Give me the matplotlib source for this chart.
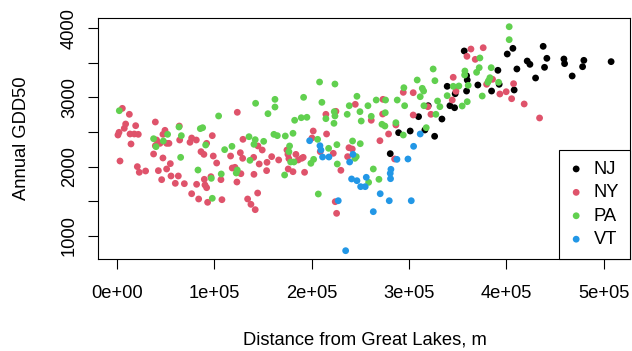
import matplotlib
matplotlib.use("Agg")
import matplotlib.pyplot as plt
import numpy as np

plt.rcParams['font.family'] = ['Liberation Sans', 'DejaVu Sans']

# distance from Great Lakes (km) and annual GDD50, per state
nj_km = [280.7, 289.3, 301.2, 316.3, 326.3, 309.8, 319.7, 356.7, 359.1, 359.8, 339.2, 347.4,
         342.0, 346.8, 333.8, 359.1, 370.7, 384.8, 391.3, 392.6, 408.0, 400.9, 406.7, 410.8,
         421.4, 424.2, 437.8, 441.6, 439.2, 430.0, 459.1, 459.8, 467.6, 479.6, 478.3, 507.6]
nj_gdd = [2188, 2491, 2515, 2530, 2439, 2722, 2880, 3670, 3313, 3251, 3160, 3053,
          2880, 2851, 2688, 3092, 3179, 3092, 3391, 3189, 3107, 3626, 3708, 3410,
          3525, 3477, 3737, 3564, 3434, 3280, 3554, 3487, 3309, 3535, 3443, 3516]

ny_km = [5.5, 12.7, 8.9, 7.5, 19.2, 2.1, 1.0, 13.4, 17.8, 21.9, 14.4, 3.1, 39.4, 49.3, 47.2,
         40.7, 44.2, 51.0, 53.4, 39.4, 37.6, 47.2, 54.8, 51.0, 42.5, 45.9, 55.5, 63.0, 59.9,
         69.2, 20.9, 22.9, 29.4, 64.0, 64.4, 76.7, 75.0, 81.5, 92.1, 97.9, 86.3, 89.3, 98.9,
         102.4, 123.6, 129.4, 126.7, 129.1, 116.7, 118.4, 121.2, 127.3, 123.2, 106.8, 96.5,
         89.7, 90.4, 92.1, 81.8, 76.7, 83.9, 93.1, 107.8, 134.2, 137.6, 142.0, 144.5, 140.7,
         146.1, 140.4, 144.8, 149.2, 154.1, 153.7,
         273.2, 244.8, 294.1, 304.3, 319.4, 322.5, 304.3, 272.9, 261.2, 214.6, 224.9, 286.5,
         279.0, 270.1, 201.6, 200.3, 215.3, 238.3, 241.7, 222.2, 208.8, 230.0, 236.9, 174.6,
         175.6, 183.8, 176.6, 189.7, 186.2, 191.3, 166.1, 158.9, 175.9, 180.8, 192.7, 224.2,
         225.6, 285.2,
         363.6, 359.5, 368.0, 376.2, 345.4, 348.2, 344.4, 379.7, 385.8, 393.3, 399.8, 407.4,
         405.4, 418.3, 434.1]
ny_gdd = [2842, 2756, 2616, 2554, 2592, 2496, 2457, 2472, 2472, 2467, 2328, 2082, 2645, 2525, 2467,
          2385, 2337, 2337, 2337, 2303, 2183, 2126, 2044, 1967, 1943, 1813, 1866, 1866, 1760,
          1755, 2001, 1919, 1938, 2587, 2385, 2414, 2352, 2385, 2337, 2448, 2217, 2178, 2154,
          2053, 2785, 2395, 2202, 2121, 2154, 1981, 1991, 1899, 1779, 1813, 1856,
          1818, 1736, 1697, 1746, 1610, 1534, 1486, 1524, 1534, 1457, 1380, 1620, 1890,
          2039, 2135, 2299, 2241, 2063, 1943,
          2972, 2900, 3073, 3068, 2866, 2756, 2746, 2760, 2670, 2756, 2799, 2602,
          2472, 2375, 2515, 2414, 2472, 2274, 2255, 2193, 2217, 1948, 2145, 2241,
          2178, 2178, 2116, 2121, 2097, 2135, 2097, 2145, 1967, 1928, 1919, 1495,
          1327, 2111,
          3698, 3593, 3549, 3717, 3290, 3088, 2962, 3189, 3261, 3049, 3082, 3198,
          2981, 2905, 2703]

pa_km = [2.4, 63.7, 66.1, 52.0, 37.6, 47.6, 40.1, 65.4, 85.6, 88.0, 91.1, 104.4, 83.2, 96.9,
         97.9, 107.1, 110.6, 118.1, 123.6, 122.5, 135.6, 142.0, 140.7, 150.7, 136.6, 142.4, 155.1,
         162.3, 162.3, 208.1, 223.9, 191.7, 210.5, 246.5, 238.6, 257.8, 266.3, 275.9, 287.9,
         294.7, 308.4, 313.6, 315.0, 311.5, 324.8, 326.6, 295.5, 315.3, 329.3, 331.7, 327.6,
         249.6, 236.5, 223.2, 223.9, 214.6, 222.9, 195.1, 189.3, 182.5, 261.2, 250.9, 272.2,
         275.2, 286.5, 275.6, 180.8, 172.9, 161.2, 164.7, 206.1, 225.9, 242.0, 249.9, 217.4,
         177.3, 176.6, 178.4, 181.8, 202.0, 199.2, 226.3, 244.4, 245.8, 263.3, 269.1, 258.5,
         206.8, 172.2, 294.1, 317.7,
         402.9, 402.9, 372.8, 372.1, 369.4, 384.4, 357.4, 357.1, 360.8, 345.4, 351.2, 339.2,
         359.8, 354.6, 375.2, 383.1, 381.7, 381.0, 392.0]
pa_gdd = [2808, 2573, 2448, 2467, 2404, 2371, 2289, 2135, 2549, 2563, 2313, 2732, 1952, 1832,
          1544, 1895, 2246, 2294, 1952, 1909, 2433, 2390, 2323, 2366, 2092, 2915, 2765,
          2972, 2861, 3222, 3193, 3001, 2929, 3016, 2880, 2880, 2962, 2962, 2962,
          3140, 3251, 3131, 3092, 3010, 3410, 3241, 2880, 2880, 2948, 2866, 2756,
          2794, 2756, 2794, 2732, 2693, 2626, 2713, 2707, 2670, 2727, 2659, 2612,
          2587, 2635, 2779, 2482, 2443, 2467, 2448, 2395, 2318, 2371, 2332, 2265,
          2299, 2217, 2068, 2068, 2106, 2049, 2039, 2121, 2145, 1967, 1818, 1774,
          1606, 1880, 2457, 2563,
          4020, 3833, 3569, 3429, 3362, 3429, 3381, 3323, 3174, 3160, 3165, 3025,
          2938, 2876, 3020, 3284, 3241, 3218, 3218]

vt_km = [197.9, 208.5, 209.5, 211.2, 217.7, 239.0, 242.4, 241.0, 246.5, 256.1, 250.3, 255.0,
         281.4, 280.7, 281.0, 287.6, 298.9, 304.7, 311.5, 270.4, 279.7, 302.3, 263.3, 227.3, 234.9]
vt_gdd = [2375, 2303, 2241, 2140, 2140, 2068, 2178, 1823, 1798, 1847, 1712, 1712,
          1962, 1904, 1827, 2106, 2111, 2294, 2472, 1610, 1509, 1509, 1351, 1509, 788]

states = ["NJ", "NY", "PA", "VT"]
colors = ["#000000", "#DF536B", "#61D04F", "#2297E6"]
series = [(nj_km, nj_gdd), (ny_km, ny_gdd), (pa_km, pa_gdd), (vt_km, vt_gdd)]

fs = 13.2

fig = plt.figure(figsize=(6.32, 3.51), dpi=100)
ax = fig.add_axes([98 / 632, 92 / 351, 532 / 632, 241.5 / 351])

for name, col, (km, gdd) in zip(states, colors, series):
    ax.scatter(np.array(km) * 1000, gdd, s=24, color=col, edgecolors="none", label=name)

ax.set_xlim(-19500, 527000)
ax.set_ylim(668, 4153)

xt = np.arange(0, 500001, 100000)
ax.set_xticks(xt)
ax.set_xticklabels([f"{v:.0e}" for v in xt])
yt = np.arange(1000, 4001, 500)
ax.set_yticks(yt)
ax.set_yticklabels([str(v) if v % 1000 == 0 else "" for v in yt], rotation=90, va="center")

for s in ax.spines.values():
    s.set_linewidth(0.8)
ax.tick_params(direction="out", length=7.2, width=0.8, labelsize=fs)
ax.tick_params(axis="x", pad=11.5)
ax.tick_params(axis="y", pad=7.3)

fig.text(365 / 632, (351 - 340) / 351, "Distance from Great Lakes, m", ha="center", va="center", fontsize=fs)
fig.text(22 / 632, (351 - 138) / 351, "Annual GDD50", ha="center", va="center", rotation=90, fontsize=fs)

leg = ax.legend(loc="lower right", borderaxespad=0, fancybox=False, framealpha=1,
                edgecolor="black", fontsize=fs, handletextpad=0.62, labelspacing=0.35,
                borderpad=0.6, handlelength=0.65, scatterpoints=1)
leg.get_frame().set_linewidth(0.8)

fig.savefig("out.png", dpi=100)
